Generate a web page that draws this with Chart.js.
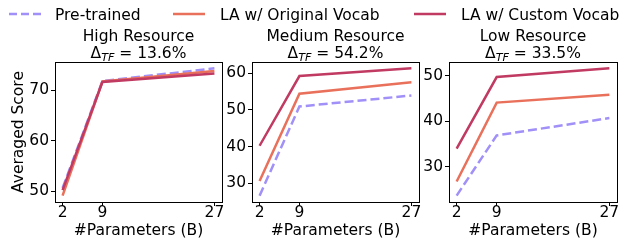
<!DOCTYPE html>
<html lang="en">
<head>
    <meta charset="UTF-8">
    <title>Averaged Score vs #Parameters</title>
    <script src="https://cdn.jsdelivr.net/npm/chart.js"></script>
    <style>
        body { margin: 0; background: #fff; font-family: "DejaVu Sans", sans-serif; color: #000; }
        #wrap { position: relative; width: 632px; height: 240px; overflow: hidden; }
        #wrap canvas { position: absolute; left: 0; top: 0; }
        .lg-line { position: absolute; top: 12px; }
        .lg-text { position: absolute; top: 5.6px; font-size: 15.5px; line-height: 18px; white-space: nowrap; }
        .ttl { position: absolute; top: 27.5px; width: 220px; font-size: 15.5px; line-height: 17px; text-align: center; white-space: nowrap; }
        .ttl sub { font-style: italic; font-size: 0.72em; line-height: 0; vertical-align: -0.3em; }
    </style>
</head>
<body>
<div id="wrap">
    <canvas id="c1" width="632" height="240"></canvas>
    <canvas id="c2" width="632" height="240"></canvas>
    <canvas id="c3" width="632" height="240"></canvas>

    <!-- legend -->
    <svg class="lg-line" style="left:9px" width="32" height="4"><line x1="0" y1="2" x2="32" y2="2" stroke="#a190f7" stroke-width="2.5" stroke-dasharray="8 4"/></svg>
    <div class="lg-text" style="left:55px">Pre-trained</div>
    <svg class="lg-line" style="left:173px" width="32" height="4"><line x1="0" y1="2" x2="32" y2="2" stroke="#e9715b" stroke-width="2.5"/></svg>
    <div class="lg-text" style="left:220px">LA w/ Original Vocab</div>
    <svg class="lg-line" style="left:414px" width="32" height="4"><line x1="0" y1="2" x2="32" y2="2" stroke="#c13a62" stroke-width="2.5"/></svg>
    <div class="lg-text" style="left:461px">LA w/ Custom Vocab</div>

    <!-- panel titles -->
    <div class="ttl" style="left:28.5px">High Resource<br>&Delta;<sub>TF</sub> = 13.6%</div>
    <div class="ttl" style="left:225.5px">Medium Resource<br>&Delta;<sub>TF</sub> = 54.2%</div>
    <div class="ttl" style="left:423px">Low Resource<br>&Delta;<sub>TF</sub> = 33.5%</div>
</div>

<script>
    // model sizes (x position) and their tick labels
    const xPos = [2.6, 9, 27];
    const xTickLabels = ['2', '9', '27'];

    // High resource
    const highPre = [50.6, 71.8, 74.3];
    const highOrig = [49.1, 71.7, 73.8];
    const highCustom = [50.2, 71.6, 73.3];
    const highTicks = [50, 60, 70];

    // Medium resource
    const medPre = [26.6, 50.9, 53.9];
    const medOrig = [30.6, 54.4, 57.5];
    const medCustom = [40.2, 59.2, 61.3];
    const medTicks = [30, 40, 50, 60];

    // Low resource
    const lowPre = [23.7, 36.9, 40.7];
    const lowOrig = [26.8, 44.1, 45.8];
    const lowCustom = [34.0, 49.7, 51.6];
    const lowTicks = [30, 40, 50];

    const colPre = '#a190f7';
    const colOrig = '#e9715b';
    const colCustom = '#c13a62';
    const FONT = { family: 'DejaVu Sans', size: 15.5 };

    // 5% padding like matplotlib autoscale
    function padRange(vals) {
        const lo = Math.min(...vals), hi = Math.max(...vals);
        const m = (hi - lo) * 0.05;
        return [lo - m, hi + m];
    }

    // box around the plot area
    const boxPlugin = {
        id: 'box',
        afterDraw(chart) {
            const a = chart.chartArea, ctx = chart.ctx;
            ctx.save();
            ctx.strokeStyle = '#000';
            ctx.lineWidth = 1;
            ctx.strokeRect(Math.round(a.left) + 0.5, Math.round(a.top) + 0.5,
                Math.round(a.right - a.left), Math.round(a.bottom - a.top));
            ctx.restore();
        }
    };

    function makePanel(id, pre, orig, custom, yTicks, pad, yWidth, showYTitle) {
        const xr = padRange(xPos);
        const yr = padRange(pre.concat(orig, custom));
        const pts = arr => arr.map((v, i) => ({ x: xPos[i], y: v }));
        new Chart(document.getElementById(id), {
            type: 'line',
            data: {
                datasets: [
                    { label: 'LA w/ Custom Vocab', data: pts(custom), borderColor: colCustom, borderWidth: 2.5 },
                    { label: 'LA w/ Original Vocab', data: pts(orig), borderColor: colOrig, borderWidth: 2.5 },
                    { label: 'Pre-trained', data: pts(pre), borderColor: colPre, borderWidth: 2.5, borderDash: [9, 4] }
                ]
            },
            options: {
                responsive: false,
                animation: false,
                events: [],
                elements: { point: { radius: 0 }, line: { tension: 0, fill: false } },
                layout: { padding: pad },
                plugins: { legend: { display: false }, tooltip: { enabled: false } },
                scales: {
                    x: {
                        type: 'linear',
                        min: xr[0],
                        max: xr[1],
                        afterBuildTicks: s => { s.ticks = xPos.map(v => ({ value: v })); },
                        afterFit: s => { s.height = 38; },
                        grid: { drawOnChartArea: false, drawTicks: true, tickLength: 4, tickColor: '#000' },
                        border: { display: false },
                        ticks: {
                            color: '#000', font: { ...FONT, lineHeight: 1 }, padding: -0.5,
                            maxRotation: 0, autoSkip: false,
                            callback: (v, i) => xTickLabels[i]
                        },
                        title: {
                            display: true, text: '#Parameters (B)', color: '#000',
                            font: { ...FONT, lineHeight: 1.2 }, padding: { top: 0, bottom: 0 }
                        }
                    },
                    y: {
                        min: yr[0],
                        max: yr[1],
                        afterBuildTicks: s => { s.ticks = yTicks.map(v => ({ value: v })); },
                        afterFit: s => { s.width = yWidth; },
                        grid: { drawOnChartArea: false, drawTicks: true, tickLength: 4, tickColor: '#000' },
                        border: { display: false },
                        ticks: { color: '#000', font: FONT, padding: 2 },
                        title: {
                            display: showYTitle, text: 'Averaged Score', color: '#000',
                            font: { ...FONT, lineHeight: 1.2 }, padding: { top: 0, bottom: 0 }
                        }
                    }
                }
            },
            plugins: [boxPlugin]
        });
    }

    makePanel('c1', highPre, highOrig, highCustom, highTicks, { left: 10, right: 410, top: 62, bottom: 0 }, 45, true);
    makePanel('c2', medPre, medOrig, medCustom, medTicks, { left: 222, right: 213, top: 62, bottom: 0 }, 30, false);
    makePanel('c3', lowPre, lowOrig, lowCustom, lowTicks, { left: 419, right: 15, top: 62, bottom: 0 }, 30, false);
</script>
</body>
</html>
